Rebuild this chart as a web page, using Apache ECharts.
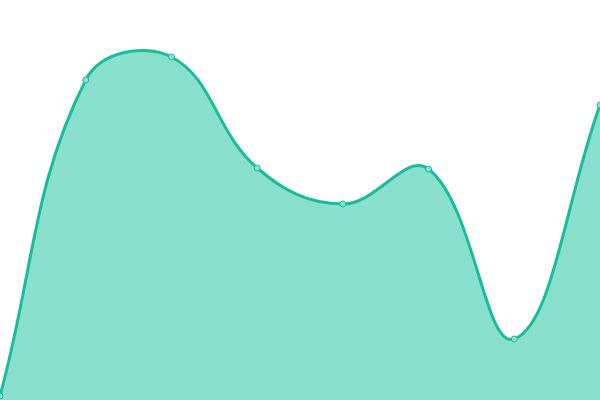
<!DOCTYPE html>
<html>
<head>
<meta charset="utf-8">
<script src="https://cdn.jsdelivr.net/npm/echarts@6/dist/echarts.min.js"></script>
<style>
  html, body { margin: 0; padding: 0; background: #fff; }
  #chart { width: 600px; height: 400px; }
</style>
</head>
<body>
<div id="chart"></div>
<script>
const categories = ['A', 'B', 'C', 'D', 'E', 'F', 'G', 'H']
const values = [4, 320, 343, 232, 196, 231, 61, 295]

const TENSION = 0.4
const LINE_COLOR = '#1abc9c'
const AREA_COLOR = '#89e0cf'

// spline control points (tension style, endpoints use themselves as neighbour)
function controlPoints(pts) {
  return pts.map((cur, i) => {
    const prev = pts[Math.max(0, i - 1)]
    const next = pts[Math.min(pts.length - 1, i + 1)]
    const d01 = Math.hypot(cur[0] - prev[0], cur[1] - prev[1])
    const d12 = Math.hypot(next[0] - cur[0], next[1] - cur[1])
    let s01 = d01 / (d01 + d12)
    let s12 = d12 / (d01 + d12)
    s01 = isNaN(s01) ? 0 : s01
    s12 = isNaN(s12) ? 0 : s12
    const fa = TENSION * s01
    const fb = TENSION * s12
    return {
      prev: [cur[0] - fa * (next[0] - prev[0]), cur[1] - fa * (next[1] - prev[1])],
      next: [cur[0] + fb * (next[0] - prev[0]), cur[1] + fb * (next[1] - prev[1])]
    }
  })
}

function curvePath(pts) {
  const cps = controlPoints(pts)
  let d = 'M' + pts[0][0] + ',' + pts[0][1]
  for (let i = 1; i < pts.length; i++) {
    const a = cps[i - 1].next
    const b = cps[i].prev
    d += 'C' + a[0] + ',' + a[1] + ',' + b[0] + ',' + b[1] + ',' + pts[i][0] + ',' + pts[i][1]
  }
  return d
}

function renderCurve(params, api) {
  if (params.dataIndex !== 0) return null
  const pts = values.map((v, i) => api.coord([i, v]))
  const baseY = api.coord([0, 0])[1]
  const line = curvePath(pts)
  const last = pts[pts.length - 1]
  const area = line + 'L' + last[0] + ',' + baseY + 'L' + pts[0][0] + ',' + baseY + 'Z'
  return {
    type: 'group',
    children: [
      { type: 'path', shape: { pathData: area }, style: { fill: AREA_COLOR, stroke: null } },
      { type: 'path', shape: { pathData: line }, style: { fill: null, stroke: LINE_COLOR, lineWidth: 3 } }
    ]
  }
}

const myChart = echarts.init(document.getElementById('chart'))
const option = {
  animation: false,
  grid: { left: 0, right: 0, top: 0, bottom: 0 },
  xAxis: {
    type: 'category',
    boundaryGap: false,
    data: categories,
    show: false
  },
  yAxis: {
    type: 'value',
    min: 0,
    max: 400,
    show: false
  },
  series: [
    {
      type: 'custom',
      data: values.map((v, i) => [i, v]),
      renderItem: renderCurve,
      clip: false,
      z: 1
    },
    {
      type: 'line',
      data: values,
      symbol: 'circle',
      symbolSize: 6,
      z: 3,
      lineStyle: { opacity: 0 },
      itemStyle: { color: '#8be0cf', borderColor: LINE_COLOR, borderWidth: 1 }
    }
  ]
}
myChart.setOption(option)
</script>
</body>
</html>
